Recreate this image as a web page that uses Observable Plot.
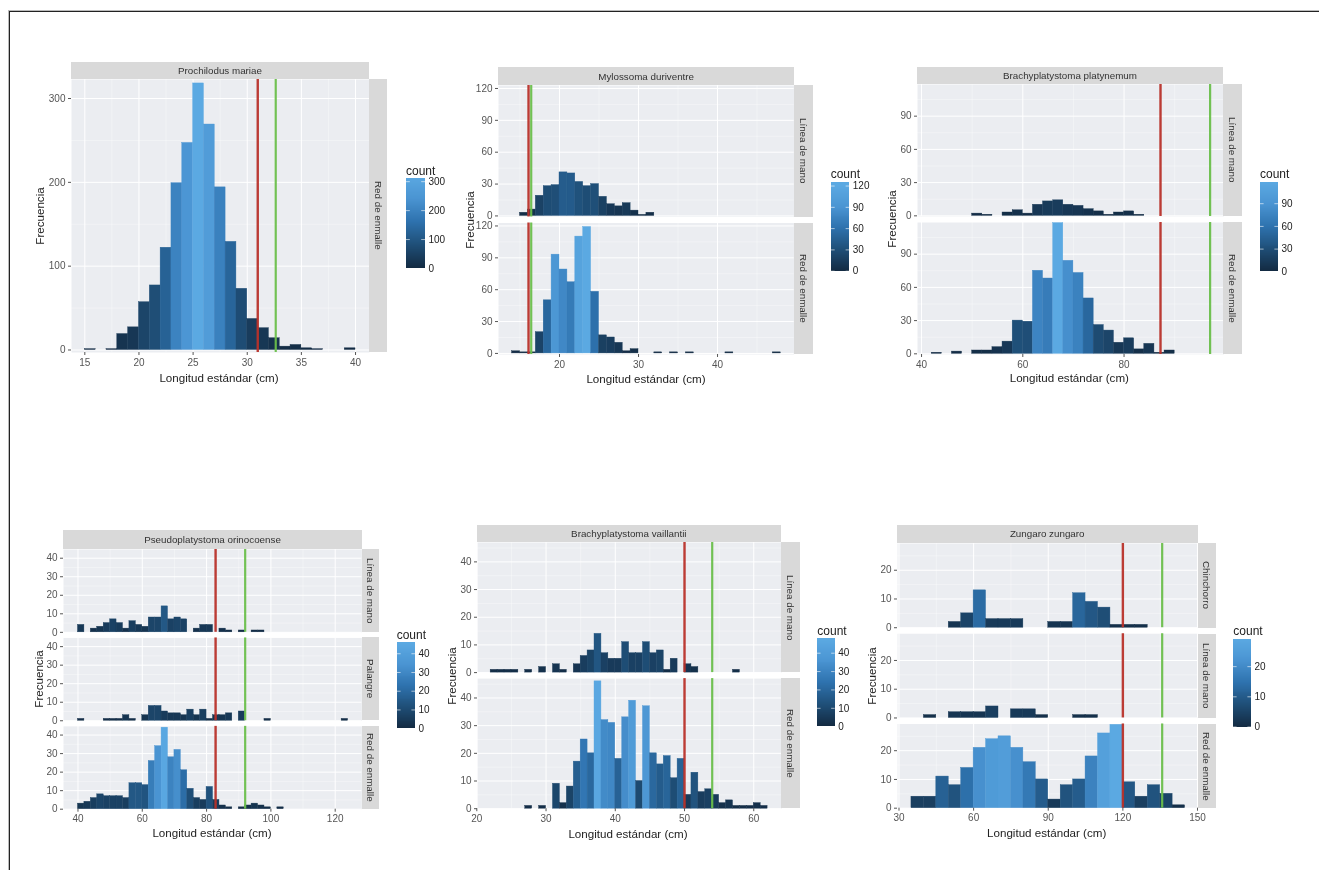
<!DOCTYPE html>
<html lang="es">
<head>
<meta charset="utf-8">
<script src="https://cdn.jsdelivr.net/npm/d3@7"></script>
<script src="https://cdn.jsdelivr.net/npm/@observablehq/plot@0.6"></script>
<style>
  html,body{margin:0;padding:0;background:#fff;}
  #page{position:relative;width:1319px;height:870px;overflow:hidden;font-family:"Liberation Sans",Arial,sans-serif;background:#fff;filter:blur(0.4px);}
  #frame{position:absolute;left:9px;top:11px;width:1320px;height:870px;border-left:1px solid #222;border-top:1px solid #222;box-shadow:-1px -1px 0 #bbb;}
  .strip{position:absolute;background:#D9D9D9;color:#333;display:flex;align-items:center;justify-content:center;font-size:9.8px;}
  .strip.v span{writing-mode:vertical-rl;}
  .axt{position:absolute;white-space:nowrap;font-size:11.6px;color:#222;line-height:1;transform:translate(-50%,-50%);}
  .axt.v{transform:translate(-50%,-50%) rotate(-90deg);}
  .legt{position:absolute;font-size:12px;color:#222;line-height:1;transform:translateY(-50%);}
  .pl{position:absolute;}
  .pl svg{max-width:none;display:block;}
</style>
</head>
<body>
<div id="page"><div id="frame"></div></div>
<script>
// [bin start, count]
const prochilodusRed = [[15,1],[17,1],[18,19],[19,27],[20,57],[21,77],[22,122],[23,199],[24,247],[25,318],[26,269],[27,194],[28,129],[29,73],[30,37],[31,26],[32,14],[33,4],[34,6],[35,2],[36,1],[39,2]];
const mylossomaLinea = [[15,3],[16,6],[17,19],[18,28],[19,29],[20,41],[21,40],[22,32],[23,28],[24,30],[25,18],[26,11],[27,9],[28,12],[29,5],[30,1],[31,3]];
const mylossomaRed = [[14,2],[15,1],[16,1],[17,20],[18,50],[19,93],[20,79],[21,67],[22,110],[23,119],[24,58],[25,17],[26,15],[27,10],[28,2],[29,4],[32,1],[34,1],[36,1],[41,1],[47,1]];
const platynemumLinea = [[50,2],[52,1],[56,3],[58,5],[60,2],[62,10],[64,13],[66,14],[68,10],[70,9],[72,6],[74,4],[76,1],[78,3],[80,4],[82,1]];
const platynemumRed = [[42,1],[46,2],[50,3],[52,3],[54,6],[56,11],[58,30],[60,29],[62,75],[64,68],[66,118],[68,84],[70,73],[72,50],[74,26],[76,21],[78,10],[80,14],[82,4],[84,9],[86,1],[88,3]];
const pseudoLinea = [[40,4],[44,2],[46,3],[48,5],[50,7],[52,5],[54,2],[56,6],[58,4],[60,3],[62,8],[64,8],[66,14],[68,7],[70,8],[72,7],[76,2],[78,4],[80,4],[84,2],[86,1],[90,1],[94,1],[96,1]];
const pseudoPalangre = [[40,1],[48,1],[50,1],[52,1],[54,3],[56,1],[60,3],[62,8],[64,8],[66,5],[68,4],[70,4],[72,3],[74,6],[76,3],[78,6],[80,1],[82,3],[84,3],[86,4],[90,5],[98,1],[122,1]];
const pseudoRed = [[40,3],[42,4],[44,6],[46,8],[48,7],[50,7],[52,7],[54,6],[56,14],[58,14],[60,13],[62,26],[64,34],[66,44],[68,28],[70,32],[72,21],[74,11],[76,6],[78,5],[80,12],[82,5],[84,2],[86,1],[90,1],[92,2],[94,3],[96,2],[98,1],[102,1]];
const vaillantiiLinea = [[22,1],[23,1],[24,1],[25,1],[27,1],[29,2],[31,3],[32,1],[34,3],[35,6],[36,8],[37,14],[38,7],[39,5],[40,5],[41,11],[42,7],[43,7],[44,11],[45,7],[46,8],[47,1],[48,5],[50,3],[51,2],[57,1]];
const vaillantiiRed = [[27,1],[29,1],[31,9],[32,2],[33,8],[34,17],[35,25],[36,20],[37,46],[38,32],[39,31],[40,18],[41,33],[42,39],[43,10],[44,37],[45,20],[46,16],[47,19],[48,11],[49,18],[50,5],[51,13],[52,6],[53,7],[54,5],[55,2],[56,3],[57,1],[58,1],[59,1],[60,2],[61,1]];
const zungaroChinchorro = [[50,2],[55,5],[60,13],[65,3],[70,3],[75,3],[90,2],[95,2],[100,12],[105,9],[110,7],[115,1],[120,1],[125,1]];
const zungaroLinea = [[40,1],[50,2],[55,2],[60,2],[65,4],[75,3],[80,3],[85,1],[100,1],[105,1]];
const zungaroRed = [[35,4],[40,4],[45,11],[50,8],[55,14],[60,21],[65,24],[70,25],[75,21],[80,16],[85,10],[90,3],[95,8],[100,10],[105,18],[110,26],[115,29],[120,9],[125,4],[130,8],[135,5],[140,1]];

const gearRed = "Red de enmalle", gearLinea = "Línea de mano", gearPalangre = "Palangre", gearChinchorro = "Chinchorro";
const xLabel = "Longitud estándar (cm)", yLabel = "Frecuencia", legendTitle = "count";
const colorStops = ["#132B43","#1F4F78","#2E72AE","#4A94D2","#5BA9E2"], redLine = "#B8322A", greenLine = "#6ABF4B";

const charts = [
  {name:"Prochilodus mariae", binWidth:1, rows:[[gearRed,prochilodusRed]],
   xDomain:[13.77,41.29], yDomain:[-3,322.7], xTicks:[15,20,25,30,35,40], yTicks:[0,100,200,300], red:30.97, green:32.63,
   colorMax:318, legendMax:311, legendTicks:[0,100,200,300],
   box:{left:71,right:369,stripTop:62,top:79,bottom:352,stripRight:387,gap:0},
   legend:{x:406,w:19,top:178,bottom:268,titleY:170.5},
   titles:{yx:40,yy:216,xx:219,xy:378}},
  {name:"Mylossoma duriventre", binWidth:1, rows:[[gearLinea,mylossomaLinea],[gearRed,mylossomaRed]],
   xDomain:[12.28,49.7], yDomain:[-1,122.8], xTicks:[20,30,40], yTicks:[0,30,60,90,120], red:16.08, green:16.42,
   colorMax:119, legendMax:125, legendTicks:[0,30,60,90,120],
   box:{left:498.3,right:794,stripTop:67,top:85,bottom:354,stripRight:812.7,gap:6},
   legend:{x:830.7,w:18.3,top:182.3,bottom:271,titleY:174},
   titles:{yx:470,yy:220,xx:646,xy:379}},
  {name:"Brachyplatystoma platynemum", binWidth:2, rows:[[gearLinea,platynemumLinea],[gearRed,platynemumRed]],
   xDomain:[39.2,99.76], yDomain:[-0.6,118.6], xTicks:[40,60,80], yTicks:[0,30,60,90], red:87.2, green:97,
   colorMax:118, legendMax:118, legendTicks:[0,30,60,90],
   box:{left:916.7,right:1223.3,stripTop:66.7,top:84,bottom:354,stripRight:1241.7,gap:6},
   legend:{x:1260,w:18,top:181.7,bottom:271,titleY:174},
   titles:{yx:891.7,yy:219,xx:1069.3,xy:378}},
  {name:"Pseudoplatystoma orinocoense", binWidth:2, rows:[[gearLinea,pseudoLinea],[gearPalangre,pseudoPalangre],[gearRed,pseudoRed]],
   xDomain:[35.5,128.3], yDomain:[0,44.7], xTicks:[40,60,80,100,120], yTicks:[0,10,20,30,40], red:82.8, green:92,
   colorMax:45, legendMax:46, legendTicks:[0,10,20,30,40],
   box:{left:63.3,right:361.7,stripTop:530,top:549,bottom:808.7,stripRight:379.3,gap:5.6},
   legend:{x:396.7,w:18,top:642.3,bottom:728.5,titleY:635},
   titles:{yx:39,yy:679,xx:212,xy:833}},
  {name:"Brachyplatystoma vaillantii", binWidth:1, rows:[[gearLinea,vaillantiiLinea],[gearRed,vaillantiiRed]],
   xDomain:[20.1,64.05], yDomain:[0,47], xTicks:[20,30,40,50,60], yTicks:[0,10,20,30,40], red:50, green:54,
   colorMax:47, legendMax:48, legendTicks:[0,10,20,30,40],
   box:{left:476.7,right:781,stripTop:524.7,top:542.3,bottom:808.5,stripRight:799.7,gap:6},
   legend:{x:817.3,w:17.7,top:638.3,bottom:726.5,titleY:630.7},
   titles:{yx:451.7,yy:676,xx:628,xy:834}},
  {name:"Zungaro zungaro", binWidth:5, rows:[[gearChinchorro,zungaroChinchorro],[gearLinea,zungaroLinea],[gearRed,zungaroRed]],
   xDomain:[29.4,150.4], yDomain:[0,29.3], xTicks:[30,60,90,120,150], yTicks:[0,10,20], red:120, green:135.8,
   colorMax:29, legendMax:29, legendTicks:[0,10,20],
   box:{left:896.7,right:1197.7,stripTop:524.7,top:543.3,bottom:808,stripRight:1216,gap:6},
   legend:{x:1233.3,w:18,top:639,bottom:726.5,titleY:631},
   titles:{yx:872,yy:676,xx:1046.7,xy:832.7}}
];

const page = document.getElementById("page");
function addDiv(cls, css, text){
  const d = document.createElement("div");
  d.className = cls;
  Object.assign(d.style, css);
  if (text !== undefined) d.innerHTML = text;
  page.appendChild(d);
  return d;
}
const mids = t => {
  const step = t[1]-t[0], out = [];
  for (let v = t[0]-step/2; v <= t[t.length-1]+step; v += step) out.push(v);
  return out;
};
const axisFont = {fontSize:10, color:"#555", tickSize:3, tickPadding:3, label:null, tickFormat:d=>String(d)};

for (const c of charts) {
  const b = c.box, n = c.rows.length;
  const mL = 42, mR = 2, mT = 2, mB = 24;
  const w = b.right - b.left, h = b.bottom - b.top;
  const band = (h - (n-1)*b.gap)/n;
  const colorDomain = colorStops.map((_,i)=>c.colorMax*i/(colorStops.length-1));
  const color = {type:"linear", domain:colorDomain, range:colorStops, interpolate:d3.interpolateRgb};
  const data = c.rows.flatMap(([gear,pairs]) => pairs.map(([lo,count]) => ({gear,lo,hi:lo+c.binWidth,count})));
  const chart = Plot.plot({
    width:w+mL+mR, height:h+mT+mB, marginLeft:mL, marginRight:mR, marginTop:mT, marginBottom:mB,
    style:{fontFamily:"'Liberation Sans',Arial,sans-serif",background:"transparent",overflow:"visible"},
    x:{domain:c.xDomain}, y:{domain:c.yDomain},
    fy:{domain:c.rows.map(r=>r[0]), axis:null, round:false, paddingInner:n>1?b.gap/(band+b.gap):0, paddingOuter:0},
    color,
    marks:[
      Plot.frame({fill:"#EBEDF1",stroke:null}),
      Plot.gridX(mids(c.xTicks).filter(v=>v>c.xDomain[0]&&v<c.xDomain[1]),{stroke:"#fff",strokeOpacity:0.7,strokeWidth:0.5}),
      Plot.gridY(mids(c.yTicks).filter(v=>v>c.yDomain[0]&&v<c.yDomain[1]),{stroke:"#fff",strokeOpacity:0.7,strokeWidth:0.5}),
      Plot.gridX(c.xTicks,{stroke:"#fff",strokeOpacity:1,strokeWidth:1}),
      Plot.gridY(c.yTicks,{stroke:"#fff",strokeOpacity:1,strokeWidth:1}),
      Plot.rect(data,{x1:"lo",x2:"hi",y1:()=>0,y2:"count",fy:"gear",fill:"count",stroke:"count",strokeWidth:0.4}),
      Plot.ruleX([c.red],{stroke:redLine,strokeWidth:2.4,strokeOpacity:0.95}),
      Plot.ruleX([c.green],{stroke:greenLine,strokeWidth:2.2,strokeOpacity:0.95}),
      Plot.axisY({ticks:c.yTicks,...axisFont}),
      Plot.axisX({ticks:c.xTicks,...axisFont})
    ]
  });
  const holder = addDiv("pl",{left:(b.left-mL)+"px",top:(b.top-mT)+"px"});
  holder.appendChild(chart);

  addDiv("strip",{left:b.left+"px",top:b.stripTop+"px",width:w+"px",height:(b.top-b.stripTop)+"px"},`<span>${c.name}</span>`);
  c.rows.forEach(([gear],i)=>{
    addDiv("strip v",{left:b.right+"px",top:(b.top+i*(band+b.gap))+"px",width:(b.stripRight-b.right)+"px",height:band+"px"},`<span>${gear}</span>`);
  });
  addDiv("axt",{left:c.titles.xx+"px",top:c.titles.xy+"px"},xLabel);
  addDiv("axt v",{left:c.titles.yx+"px",top:c.titles.yy+"px"},yLabel);

  // legend
  const L = c.legend, steps = d3.range(0,c.legendMax,c.legendMax/90);
  const lh = L.bottom-L.top;
  const legend = Plot.plot({
    width:L.w+26, height:lh+10, marginLeft:0, marginRight:26, marginTop:5, marginBottom:5,
    style:{fontFamily:"'Liberation Sans',Arial,sans-serif",background:"transparent",overflow:"visible"},
    x:{domain:[0,1],axis:null}, y:{domain:[0,c.legendMax],axis:null}, color,
    marks:[
      Plot.rect(steps,{x1:()=>0,x2:()=>1,y1:d=>d,y2:d=>d+c.legendMax/90,fill:d=>Math.min(d,c.colorMax),shapeRendering:"crispEdges"}),
      Plot.ruleY(c.legendTicks,{x1:()=>0,x2:()=>0.2,stroke:"#fff",strokeWidth:0.6}),
      Plot.ruleY(c.legendTicks,{x1:()=>0.8,x2:()=>1,stroke:"#fff",strokeWidth:0.6}),
      Plot.axisY({anchor:"right",ticks:c.legendTicks,tickSize:0,tickPadding:3,fontSize:10,label:null,color:"#222",tickFormat:d=>String(d)})
    ]
  });
  const lholder = addDiv("pl",{left:L.x+"px",top:(L.top-5)+"px"});
  lholder.appendChild(legend);
  addDiv("legt",{left:L.x+"px",top:L.titleY+"px"},legendTitle);
}
</script>
</body>
</html>
